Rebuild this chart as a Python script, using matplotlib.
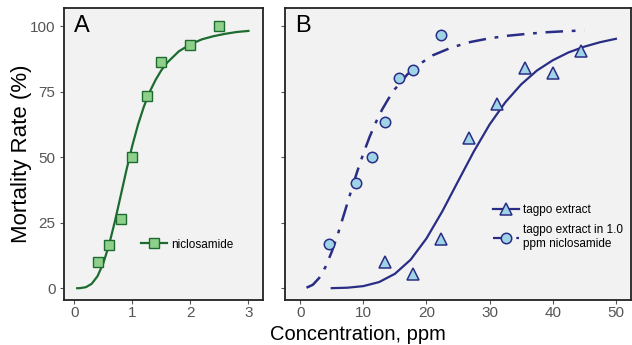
#!/usr/bin/env python3
# -*- coding: utf-8 -*-

import matplotlib
matplotlib.use("Agg")
import matplotlib.pyplot as plt

#----------------------------------------------------------------DATA

# panel A - niclosamide
nic_x = [0.4, 0.6, 0.8, 1.0, 1.25, 1.5, 2.0, 2.5]
nic_y = [10, 16.5, 26.5, 50, 73.5, 86.5, 93, 100]
nic_fit_x = [0.05, 0.1, 0.2, 0.3, 0.4, 0.5, 0.6, 0.7, 0.8, 0.9, 1.0, 1.1, 1.2,
             1.3, 1.4, 1.5, 1.6, 1.8, 2.0, 2.2, 2.4, 2.6, 2.8, 3.0]
nic_fit_y = [0.0, 0.04, 0.4, 1.7, 4.6, 9.6, 16.7, 25.6, 35.4, 45.3, 54.5, 62.6,
             69.4, 75.0, 79.5, 83.2, 86.1, 90.4, 93.1, 95.0, 96.2, 97.1, 97.8, 98.2]

# panel B - tagpo extract
tag_x = [13.4, 17.8, 22.3, 26.7, 31.2, 35.6, 40.0, 44.5]
tag_y = [10.1, 5.5, 18.8, 57.2, 70.5, 83.9, 82.2, 90.5]
tag_fit_x = [5, 7.5, 10, 12.5, 15, 17.5, 20, 22.5, 25, 27.5, 30, 32.5, 35,
             37.5, 40, 42.5, 45, 47.5, 50]
tag_fit_y = [0.03, 0.2, 0.8, 2.35, 5.5, 10.9, 19.0, 29.3, 40.8, 52.2, 62.5,
             71.0, 77.8, 83.1, 87.0, 90.0, 92.2, 93.9, 95.2]

# panel B - tagpo extract in 1.0 ppm niclosamide
mix_x = [4.5, 8.9, 11.3, 13.4, 15.7, 17.8, 22.3]
mix_y = [16.8, 40.0, 50.2, 63.3, 80.2, 83.4, 96.8]
mix_fit_x = [1, 2, 3, 4, 5, 6, 7, 8, 9, 10, 11, 12, 13, 14, 15, 17, 19, 21,
             24, 27, 30, 33, 36, 39, 42, 45]
mix_fit_y = [0.2, 1.3, 3.9, 8.1, 13.9, 20.9, 28.7, 36.6, 44.3, 51.4, 57.8,
             63.4, 68.3, 72.4, 76.0, 81.7, 85.7, 88.9, 91.9, 94.0, 95.4, 96.4,
             97.1, 97.7, 98.1, 98.4]

#----------------------------------------------------------------STYLE

plt.rcParams['font.family'] = ['Liberation Sans', 'DejaVu Sans']

green_line = '#1d6b2f'
green_face = '#8ed08a'
navy = '#2a2d85'
blue_face = '#9fd4e6'
tick_grey = '#555555'
bg = '#f2f2f2'
dashdot = (0, (7, 3.5, 1.5, 3.5))

fig = plt.figure(figsize=(6.32, 3.45), dpi=100)
ax_a = fig.add_axes([0.102, 0.1304, 0.314, 0.846])
ax_b = fig.add_axes([0.451, 0.1304, 0.5475, 0.846])

for ax in (ax_a, ax_b):
    ax.set_facecolor(bg)
    for sp in ax.spines.values():
        sp.set_linewidth(1.3)
        sp.set_color('#222222')
    ax.tick_params(direction='out', length=3, width=0.8, color=tick_grey,
                   labelcolor=tick_grey, labelsize=11)
    ax.tick_params(axis='x', pad=1.5)
    ax.set_ylim(-4.5, 106.9)
    ax.set_yticks([0, 25, 50, 75, 100])

#----------------------------------------------------------------PANEL A

ax_a.plot(nic_fit_x, nic_fit_y, color=green_line, lw=1.6, zorder=2)
ax_a.plot(nic_x, nic_y, ls='none', marker='s', ms=7, mfc=green_face,
          mec=green_line, mew=1.0, zorder=3)
ax_a.plot([], [], color=green_line, lw=1.6, marker='s', ms=7, mfc=green_face,
          mec=green_line, mew=1.0, label='niclosamide')
ax_a.set_xlim(-0.17, 3.25)
ax_a.set_xticks([0, 1, 2, 3])
ax_a.set_ylabel('Mortality Rate (%)', fontsize=16, va='center')
ax_a.yaxis.set_label_coords(-0.215, 0.5)
ax_a.text(0.05, 0.975, 'A', transform=ax_a.transAxes, fontsize=17,
          va='top', ha='left')
ax_a.legend(loc='center left', bbox_to_anchor=(0.385, 0.19), frameon=False,
            fontsize=8.5, handlelength=2.2, handletextpad=0.4, borderpad=0,
            borderaxespad=0)

#----------------------------------------------------------------PANEL B

ax_b.plot(tag_fit_x, tag_fit_y, color=navy, lw=1.6, zorder=2)
ax_b.plot(mix_fit_x, mix_fit_y, color=navy, lw=1.8, ls=dashdot, zorder=2)
ax_b.plot(tag_x, tag_y, ls='none', marker='^', ms=9, mfc=blue_face, mec=navy,
          mew=1.1, zorder=3)
ax_b.plot(mix_x, mix_y, ls='none', marker='o', ms=7.5, mfc=blue_face,
          mec=navy, mew=1.1, zorder=3)
ax_b.plot([], [], color=navy, lw=1.6, marker='^', ms=9, mfc=blue_face,
          mec=navy, mew=1.1, label='tagpo extract')
ax_b.plot([], [], color=navy, lw=1.6, ls=dashdot, marker='o',
          ms=7.5, mfc=blue_face, mec=navy, mew=1.1,
          label='tagpo extract in 1.0\nppm niclosamide')
ax_b.set_xlim(-2.4, 52.4)
ax_b.set_xticks([0, 10, 20, 30, 40, 50])
ax_b.tick_params(axis='y', labelleft=False)
ax_b.text(0.03, 0.975, 'B', transform=ax_b.transAxes, fontsize=17,
          va='top', ha='left')
ax_b.legend(loc='center left', bbox_to_anchor=(0.6, 0.25), frameon=False,
            fontsize=8.5, handlelength=2.2, handletextpad=0.4, borderpad=0,
            borderaxespad=0, labelspacing=0.7)

fig.text(0.567, 0.0145, 'Concentration, ppm', fontsize=14.5, ha='center',
         va='baseline')

fig.savefig('out.png', dpi=100)
